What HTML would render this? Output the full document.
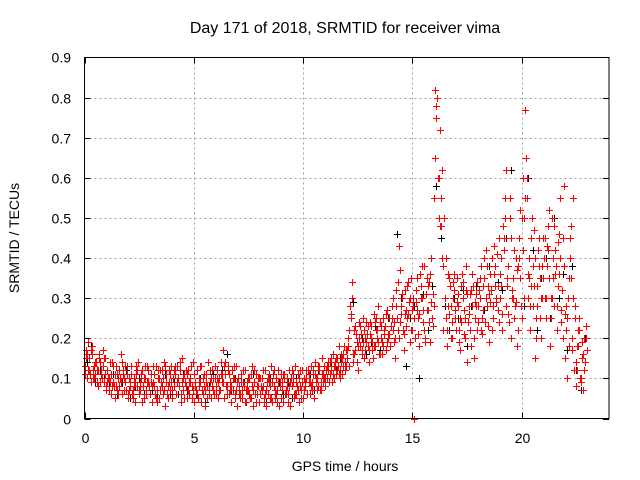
<!DOCTYPE html>
<html><head><meta charset="utf-8"><style>
body{margin:0;background:#fff;}
svg{display:block;font-family:"Liberation Sans",sans-serif;}
</style></head><body>
<svg id="chart" width="640" height="480">
<rect width="640" height="480" fill="#fff"/>
<g id="grid"></g>
<g id="axes"></g>
<g id="black" shape-rendering="crispEdges"></g>
<g id="red" shape-rendering="crispEdges"></g>
<rect x="84.5" y="57.5" width="524.5" height="361" fill="none" stroke="#000" stroke-width="1"/>
<text x="345" y="33" text-anchor="middle" font-size="16">Day 171 of 2018, SRMTID for receiver vima</text>
<text x="345" y="471" text-anchor="middle" font-size="14">GPS time / hours</text>
<text transform="translate(19,238) rotate(-90)" text-anchor="middle" font-size="14">SRMTID / TECUs</text>
</svg>
<script>
const xTicks=[0,5,10,15,20];
const yTicks=[0,0.1,0.2,0.3,0.4,0.5,0.6,0.7,0.8,0.9];
const yTickLabels=["0","0.1","0.2","0.3","0.4","0.5","0.6","0.7","0.8","0.9"];
const redStep=0.1, blackStep=0.2;
const redA=[.13,.10,.15,.09,.12,.11,.08,.14,.10,.09,
.07,.10,.06,.09,.05,.11,.08,.06,.10,.07,
.05,.09,.07,.04,.08,.06,.10,.05,.07,.09,
.06,.04,.08,.07,.05,.09,.06,.03,.08,.07,
.05,.08,.06,.10,.04,.07,.09,.05,.06,.08,
.04,.07,.05,.09,.06,.03,.08,.07,.05,.10,
.06,.09,.07,.11,.05,.08,.06,.04,.07,.05,
.03,.06,.05,.08,.04,.07,.05,.03,.06,.08,
.04,.07,.05,.03,.06,.08,.04,.05,.07,.03,
.05,.04,.07,.06,.03,.08,.05,.06,.04,.07,
.05,.08,.06,.09,.07,.05,.10,.08,.07,.09,
.08,.10,.09,.12,.10,.11,.13,.12,.11,.14,
.15,.13,.25,.14,.17,.12,.18,.16,.15,.19,
.17,.20,.15,.18,.22,.16,.19,.21,.17,.20,
.18,.22,.15,.25,.20,.28,.17,.23,.26,.19,
.22,.00,.27,.18,.30,.24,.20,.33,.19,.25,
.55,.75,.60,.48,.22,.30,.18,.26,.20,.32,
.22,.28,.17,.30,.25,.14,.26,.32,.20,.28,
.24,.30,.21,.35,.28,.19,.32,.25,.38,.27,
.30,.22,.45,.62,.26,.20,.35,.28,.18,.40,
.25,.50,.65,.30,.22,.38,.15,.28,.45,.20,
.35,.25,.42,.18,.30,.48,.22,.36,.27,.20,
.15,.10,.40,.20,.12,.08,.18,.10,.07,.14];
const redB=[.17,.19,.11,.16,.13,.09,.15,.12,.17,.11,
.12,.09,.14,.08,.13,.10,.16,.12,.09,.13,
.10,.13,.08,.11,.14,.09,.12,.10,.13,.08,
.11,.09,.13,.10,.12,.08,.14,.11,.09,.13,
.10,.13,.09,.12,.15,.11,.08,.12,.10,.14,
.09,.12,.10,.13,.08,.11,.14,.09,.12,.10,
.12,.10,.14,.17,.11,.13,.09,.12,.10,.13,
.08,.11,.09,.12,.07,.10,.13,.09,.11,.08,
.10,.08,.12,.09,.11,.13,.08,.10,.12,.09,
.09,.11,.08,.12,.10,.09,.13,.11,.08,.12,
.10,.12,.09,.13,.11,.14,.10,.12,.15,.13,
.12,.14,.11,.16,.13,.15,.18,.14,.16,.17,
.20,.28,.34,.22,.19,.24,.21,.25,.20,.23,
.24,.19,.26,.22,.28,.20,.25,.23,.27,.21,
.28,.24,.32,.22,.37,.30,.26,.33,.29,.35,
.28,.32,.25,.36,.30,.38,.27,.34,.29,.31,
.82,.80,.72,.62,.50,.40,.36,.28,.34,.25,
.35,.22,.33,.27,.38,.24,.31,.36,.29,.34,
.32,.38,.27,.42,.33,.29,.40,.36,.30,.45,
.40,.48,.55,.35,.50,.32,.42,.29,.38,.52,
.60,.77,.55,.40,.33,.47,.25,.42,.35,.30,
.45,.38,.52,.30,.40,.36,.44,.55,.32,.58,
.28,.35,.48,.55,.25,.18,.22,.15,.20,.23];
const redC=[.11,.16,.12,.18,.10,.14,.12,.09,.13,.15,
.09,.07,.11,.13,.08,.06,.10,.14,.07,.11,
.07,.11,.05,.09,.12,.07,.04,.10,.06,.12,
.09,.13,.06,.04,.10,.12,.07,.09,.05,.11,
.07,.11,.13,.08,.06,.10,.12,.07,.09,.05,
.11,.06,.08,.04,.10,.07,.05,.12,.08,.06,
.08,.05,.11,.09,.14,.06,.11,.08,.13,.07,
.10,.05,.07,.04,.09,.06,.11,.07,.04,.10,
.06,.10,.04,.07,.09,.05,.11,.07,.04,.08,
.07,.10,.06,.04,.09,.11,.06,.08,.10,.05,
.07,.10,.12,.06,.09,.11,.07,.13,.09,.11,
.10,.12,.14,.09,.13,.15,.11,.16,.13,.12,
.17,.22,.30,.16,.21,.18,.23,.19,.17,.21,
.14,.23,.18,.25,.19,.24,.16,.22,.19,.25,
.23,.30,.20,.34,.24,.31,.21,.27,.34,.22,
.30,.20,.35,.26,.38,.22,.31,.27,.36,.23,
.65,.80,.50,.55,.38,.25,.28,.33,.24,.36,
.29,.19,.24,.34,.20,.31,.22,.28,.15,.31,
.28,.22,.33,.24,.38,.31,.22,.43,.29,.33,
.36,.26,.50,.33,.24,.45,.30,.40,.22,.35,
.50,.30,.60,.35,.45,.28,.40,.33,.25,.38,
.40,.30,.48,.25,.35,.42,.28,.46,.24,.38,
.22,.30,.45,.17,.28,.12,.25,.09,.16,.20];
const redD=[.15,.12,.17,.10,.14,.12,.16,.11,.15,.08,
.10,.14,.08,.11,.07,.12,.09,.11,.13,.06,
.08,.06,.10,.13,.07,.11,.08,.13,.09,.06,
.08,.11,.05,.12,.07,.10,.13,.06,.12,.09,
.12,.06,.10,.14,.09,.05,.11,.09,.13,.07,
.08,.05,.13,.07,.11,.09,.06,.10,.07,.13,
.10,.07,.09,.13,.08,.12,.07,.10,.06,.09,
.06,.09,.12,.07,.10,.05,.08,.12,.06,.10,
.08,.12,.06,.10,.05,.09,.12,.06,.09,.11,
.11,.06,.10,.08,.12,.06,.09,.07,.12,.09,
.09,.06,.11,.08,.12,.09,.13,.07,.11,.10,
.13,.09,.15,.11,.14,.12,.10,.15,.18,.13,
.18,.26,.16,.23,.14,.20,.17,.22,.24,.18,
.21,.17,.24,.20,.16,.23,.18,.26,.21,.18,
.25,.19,.28,.43,.26,.22,.32,.25,.30,.27,
.25,.29,.21,.33,.27,.19,.35,.24,.40,.28,
.78,.60,.48,.40,.30,.22,.35,.20,.30,.27,
.31,.25,.36,.21,.32,.28,.18,.33,.25,.22,
.35,.25,.40,.30,.23,.36,.28,.33,.41,.24,
.33,.42,.28,.38,.55,.30,.25,.37,.45,.28,
.42,.55,.36,.28,.50,.33,.20,.38,.30,.45,
.30,.43,.35,.50,.28,.38,.33,.40,.45,.26,
.25,.18,.35,.30,.14,.22,.10,.19,.12,.17];
const blackV=[.14,.18,.09,.12,.10, .08,.11,.06,.09,.12, .05,.08,.10,.06,.09,
.07,.05,.09,.11,.06, .09,.06,.11,.07,.05, .06,.10,.04,.08,.11,
.09,.12,.16,.07,.10, .05,.09,.07,.11,.06, .07,.04,.10,.06,.09,
.06,.09,.05,.10,.07, .08,.11,.07,.12,.10, .10,.13,.12,.15,.14,
.22,.29,.18,.20,.16, .19,.23,.17,.21,.25, .22,.46,.30,.13,.25,
.28,.10,.31,.22,.33, .58,.45,.28,.22,.30, .25,.32,.18,.28,.33,
.30,.27,.38,.25,.34, .32,.45,.62,.28,.40, .28,.60,.42,.22,.35,
.40,.25,.50,.30,.36, .17,.38,.12,.07,.20];

const X0=84.5,X1=609,Y0=418.5,Y1=57.5;
const xs=h=>X0+h*(X1-X0)/24;
const ys=v=>Y0-v*(Y0-Y1)/0.9;
const NS="http://www.w3.org/2000/svg";
function mk(tag,attrs,parent){const e=document.createElementNS(NS,tag);for(const k in attrs)e.setAttribute(k,attrs[k]);parent.appendChild(e);return e;}
const grid=document.getElementById('grid'),axes=document.getElementById('axes');
xTicks.forEach((t,i)=>{
  const x=Math.round(xs(t))+0.5;
  if(t>0){const g=mk('line',{x1:x,x2:x,y1:Y1,y2:Y0,stroke:'#a0a0a0','stroke-dasharray':'2,3'},grid);
  
  }
  const a=mk('line',{x1:x,x2:x,y1:Y0,y2:Y0-6,stroke:'#000'},axes);
  
  
  const b=mk('line',{x1:x,x2:x,y1:Y1,y2:Y1+6,stroke:'#000'},axes);
  
  
  const l=mk('text',{x:x,y:443,'text-anchor':'middle','font-size':14},axes);l.textContent=String(t);
  
  
});
yTicks.forEach((t,i)=>{
  const y=Math.round(ys(t))+0.5;
  if(t>0&&t<0.9){const g=mk('line',{x1:X0,x2:X1,y1:y,y2:y,stroke:'#a0a0a0','stroke-dasharray':'2,3'},grid);
  
  }
  const a=mk('line',{x1:X0,x2:X0+6,y1:y,y2:y,stroke:'#000'},axes);
  
  
  const b=mk('line',{x1:X1,x2:X1-6,y1:y,y2:y,stroke:'#000'},axes);
  
  
  const l=mk('text',{x:71,y:y+5,'text-anchor':'end','font-size':14},axes);l.textContent=yTickLabels[i];
  
  
});
function plus(g,h,v,color){
  const x=Math.round(xs(h))+0.5,y=Math.round(ys(v))+0.5;
  const p=mk('path',{d:`M${x-3.5},${y}H${x+3.5}M${x},${y-3.5}V${y+3.5}`,stroke:color,'stroke-width':1,fill:'none'},g);
  
  
}
const gb=document.getElementById('black'),gr=document.getElementById('red');
blackV.forEach((v,i)=>plus(gb,i*blackStep+0.1,v,'#000'));
redA.forEach((v,i)=>plus(gr,i*redStep,v,'#ff0000'));
redC.forEach((v,i)=>plus(gr,i*redStep+0.025,v,'#ff0000'));
redB.forEach((v,i)=>plus(gr,i*redStep+0.05,v,'#ff0000'));
redD.forEach((v,i)=>plus(gr,i*redStep+0.075,v,'#ff0000'));
</script>
</body></html>
